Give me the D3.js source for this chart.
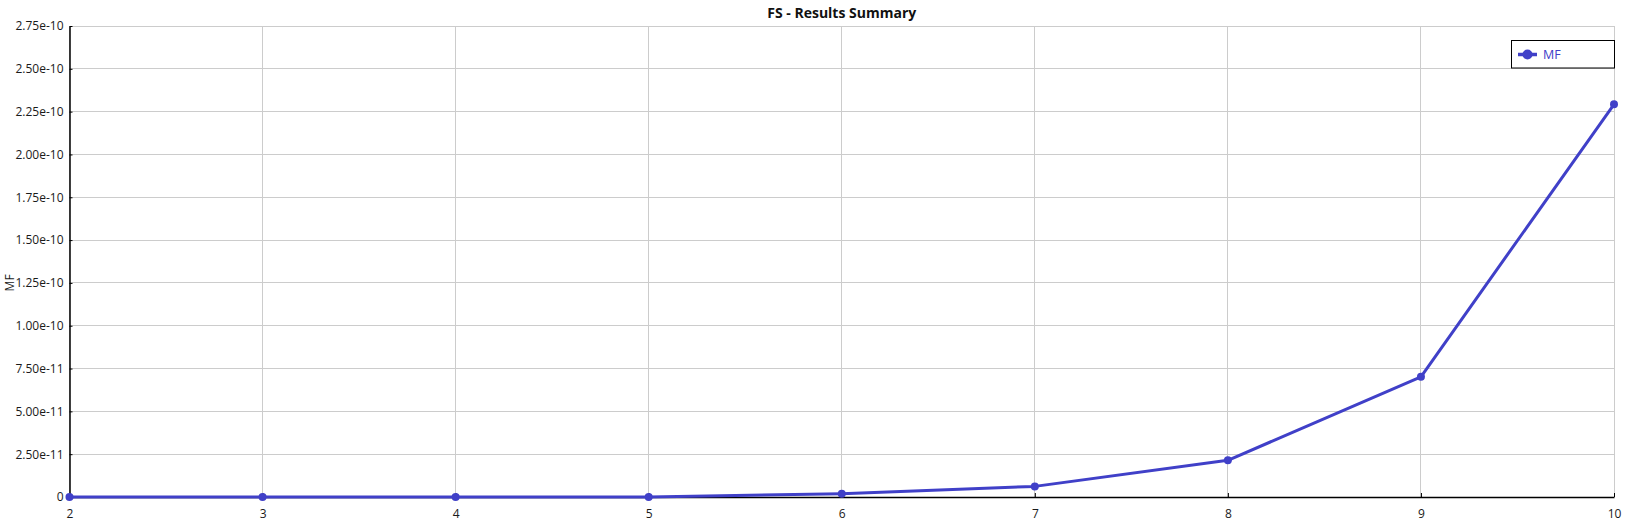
<!DOCTYPE html>
<html>
<head>
<meta charset="utf-8">
<script src="https://cdn.jsdelivr.net/npm/d3@7"></script>
<style>
  html, body { margin: 0; padding: 0; background: #fff; }
  svg { display: block; font-family: "Open Sans", "Noto Sans", sans-serif; }
</style>
</head>
<body>
<svg id="chart" width="1632" height="529"></svg>
<script>
const categories = [2, 3, 4, 5, 6, 7, 8, 9, 10];
const mfValues = [0, 0, 0, 0, 1.9e-12, 6.2e-12, 2.14e-11, 7.02e-11, 2.293e-10];
const yTicks = [0, 2.5e-11, 5.0e-11, 7.5e-11, 1.0e-10, 1.25e-10, 1.5e-10, 1.75e-10, 2.0e-10, 2.25e-10, 2.5e-10, 2.75e-10];
const yTickLabels = ["0", "2.50e-11", "5.00e-11", "7.50e-11", "1.00e-10", "1.25e-10", "1.50e-10", "1.75e-10", "2.00e-10", "2.25e-10", "2.50e-10", "2.75e-10"];
const seriesName = "MF";
const titleText = "FS - Results Summary";
const yAxisLabel = "MF";

const color = "#4040c8";
const svg = d3.select("#chart");
const W = 1632, H = 529;
const margin = { left: 69.5, right: 18, top: 26, bottom: 32 };
const x = d3.scaleLinear().domain([2, 10]).range([margin.left, W - margin.right]);
const y = d3.scaleLinear().domain([0, 2.75e-10]).range([H - margin.bottom, margin.top]);

// grid
const grid = svg.append("g");
grid.selectAll("line.h").data(yTicks).join("line")
  .attr("x1", margin.left).attr("x2", W - margin.right)
  .attr("y1", d => y(d)).attr("y2", d => y(d))
  .attr("stroke", "#cccccc").attr("stroke-width", 1).attr("shape-rendering", "crispEdges");
grid.selectAll("line.v").data(categories).join("line")
  .attr("x1", d => x(d)).attr("x2", d => x(d))
  .attr("y1", margin.top).attr("y2", H - margin.bottom)
  .attr("stroke", "#cccccc").attr("stroke-width", 1).attr("shape-rendering", "crispEdges");

// axes
const yAxis = d3.axisLeft(y).tickValues(yTicks)
  .tickFormat((d, i) => yTickLabels[i]).tickSizeInner(-3).tickSizeOuter(0).tickPadding(6);
const gy = svg.append("g").attr("transform", `translate(${margin.left},0)`).call(yAxis);
gy.select(".domain").attr("stroke", "#000").attr("stroke-width", 1.5);
gy.selectAll(".tick line").attr("stroke", "#000");
gy.selectAll(".tick text").attr("font-size", 12).attr("fill", "#1a1a1a")
  .attr("font-family", "'Open Sans', 'Noto Sans', sans-serif");

const xAxis = d3.axisBottom(x).tickValues(categories).tickFormat(d3.format("d"))
  .tickSizeInner(-4).tickSizeOuter(0).tickPadding(12);
const gx = svg.append("g").attr("transform", `translate(0,${H - margin.bottom})`).call(xAxis);
gx.select(".domain").attr("stroke", "#000").attr("stroke-width", 1.5);
gx.selectAll(".tick line").attr("stroke", "#000");
gx.selectAll(".tick text").attr("font-size", 12).attr("fill", "#1a1a1a")
  .attr("font-family", "'Open Sans', 'Noto Sans', sans-serif");

// title
svg.append("text").attr("x", (margin.left + W - margin.right) / 2).attr("y", 18)
  .attr("text-anchor", "middle").attr("font-size", 14).attr("font-weight", "bold")
  .attr("fill", "#111").text(titleText);

// y label
svg.append("text").attr("transform", `translate(14,${y(1.25e-10)}) rotate(-90)`)
  .attr("text-anchor", "middle").attr("font-size", 12).attr("fill", "#1a1a1a").text(yAxisLabel);

// series
const data = categories.map((c, i) => ({ x: c, y: mfValues[i] }));
const line = d3.line().x(d => x(d.x)).y(d => y(d.y));
svg.append("path").datum(data).attr("d", line)
  .attr("fill", "none").attr("stroke", color).attr("stroke-width", 3).attr("stroke-linejoin", "round");
svg.append("g").selectAll("circle").data(data).join("circle")
  .attr("cx", d => x(d.x)).attr("cy", d => y(d.y)).attr("r", 4).attr("fill", color);

// legend
const lg = svg.append("g");
lg.append("rect").attr("x", 1511.5).attr("y", 40.5).attr("width", 103).attr("height", 27.5)
  .attr("fill", "#fff").attr("stroke", "#000").attr("stroke-width", 1);
lg.append("line").attr("x1", 1518).attr("x2", 1537).attr("y1", 54.5).attr("y2", 54.5)
  .attr("stroke", color).attr("stroke-width", 3.5);
lg.append("circle").attr("cx", 1527.5).attr("cy", 54.5).attr("r", 5).attr("fill", color);
lg.append("text").attr("x", 1543).attr("y", 59).attr("font-size", 12.5).attr("fill", color).text(seriesName);
</script>
</body>
</html>
